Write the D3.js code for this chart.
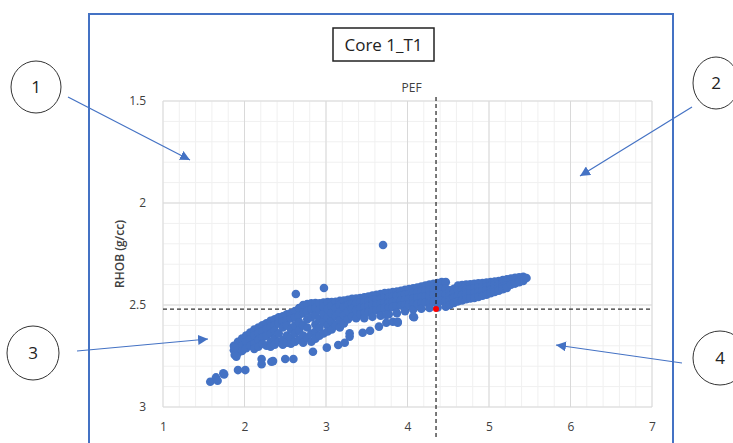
<!DOCTYPE html>
<meta charset="utf-8">
<title>Core 1_T1</title>
<script src="https://d3js.org/d3.v7.min.js"></script>
<style>
body { margin: 0; background: #fff; }
text { font-family: "Open Sans", "Noto Sans", sans-serif; }
</style>
<div id="chart"></div>
<script>
// axis ticks
const xTicks = [1, 2, 3, 4, 5, 6, 7];
const yTicks = [1.5, 2, 2.5, 3];

// cut-off (PEF, RHOB) shown by the dashed lines and red point
const cutPef = 4.35, cutRhob = 2.52;

// isolated points
const outliers = [[3.70, 2.206], [2.975, 2.417], [2.63, 2.446]];

// lower-left tail and lower trend below the main band
const lowerTrend = [
  [1.58, 2.876], [1.65, 2.855], [1.67, 2.871], [1.75, 2.84], [1.74, 2.835],
  [1.92, 2.819], [2.01, 2.819], [1.88, 2.745], [1.90, 2.753], [1.88, 2.707],
  [2.21, 2.765], [2.21, 2.79], [2.33, 2.778], [2.35, 2.775], [2.50, 2.765], [2.60, 2.765],
  [2.84, 2.729], [3.01, 2.709], [3.15, 2.696], [3.23, 2.685], [3.29, 2.655], [3.29, 2.639],
  [3.45, 2.636], [3.54, 2.626], [3.65, 2.606], [3.74, 2.587], [3.88, 2.587], [4.08, 2.56],
  [3.74, 2.549], [3.82, 2.582], [3.88, 2.582], [4.07, 2.557]
];

// main band, read column by column
const band = [
  [1.87, 2.700], [1.87, 2.722],
  [1.92, 2.680], [1.92, 2.705], [1.92, 2.735],
  [1.97, 2.665], [1.97, 2.700], [1.97, 2.725],
  [2.02, 2.650], [2.02, 2.680], [2.02, 2.712],
  [2.07, 2.635], [2.07, 2.668], [2.07, 2.700],
  [2.12, 2.620], [2.12, 2.650], [2.12, 2.690], [2.12, 2.715],
  [2.17, 2.610], [2.17, 2.640], [2.17, 2.672], [2.17, 2.705],
  [2.22, 2.600], [2.22, 2.630], [2.22, 2.660], [2.22, 2.690],
  [2.27, 2.590], [2.27, 2.615], [2.27, 2.650], [2.27, 2.700],
  [2.32, 2.578], [2.32, 2.605], [2.32, 2.640], [2.32, 2.680], [2.32, 2.705],
  [2.37, 2.570], [2.37, 2.600], [2.37, 2.625], [2.37, 2.665], [2.37, 2.695],
  [2.42, 2.560], [2.42, 2.590], [2.42, 2.640], [2.42, 2.680],
  [2.47, 2.555], [2.47, 2.580], [2.47, 2.610], [2.47, 2.670], [2.47, 2.695],
  [2.52, 2.545], [2.52, 2.575], [2.52, 2.600], [2.52, 2.650], [2.52, 2.685],
  [2.57, 2.540], [2.57, 2.565], [2.57, 2.620], [2.57, 2.660], [2.57, 2.690],
  [2.62, 2.530], [2.62, 2.560], [2.62, 2.600], [2.62, 2.640], [2.62, 2.680],
  [2.67, 2.515], [2.67, 2.550], [2.67, 2.585], [2.67, 2.625], [2.67, 2.670],
  [2.72, 2.500], [2.72, 2.540], [2.72, 2.600], [2.72, 2.650], [2.72, 2.685],
  [2.77, 2.495], [2.77, 2.530], [2.77, 2.570], [2.77, 2.610], [2.77, 2.660],
  [2.82, 2.492], [2.82, 2.520], [2.82, 2.560], [2.82, 2.640], [2.82, 2.680],
  [2.87, 2.490], [2.87, 2.515], [2.87, 2.550], [2.87, 2.595], [2.87, 2.630], [2.87, 2.665],
  [2.92, 2.492], [2.92, 2.525], [2.92, 2.570], [2.92, 2.610], [2.92, 2.650],
  [2.97, 2.488], [2.97, 2.510], [2.97, 2.545], [2.97, 2.585], [2.97, 2.640],
  [3.02, 2.486], [3.02, 2.520], [3.02, 2.560], [3.02, 2.600], [3.02, 2.630],
  [3.07, 2.485], [3.07, 2.505], [3.07, 2.540], [3.07, 2.580], [3.07, 2.620],
  [3.12, 2.484], [3.12, 2.515], [3.12, 2.555], [3.12, 2.600],
  [3.17, 2.480], [3.17, 2.500], [3.17, 2.535], [3.17, 2.575], [3.17, 2.610],
  [3.22, 2.478], [3.22, 2.510], [3.22, 2.550], [3.22, 2.590],
  [3.27, 2.474], [3.27, 2.500], [3.27, 2.530], [3.27, 2.570],
  [3.32, 2.470], [3.32, 2.495], [3.32, 2.520], [3.32, 2.555],
  [3.37, 2.468], [3.37, 2.490], [3.37, 2.525], [3.37, 2.565],
  [3.42, 2.466], [3.42, 2.488], [3.42, 2.515], [3.42, 2.545],
  [3.47, 2.462], [3.47, 2.485], [3.47, 2.510], [3.47, 2.540], [3.47, 2.565],
  [3.52, 2.458], [3.52, 2.480], [3.52, 2.505], [3.52, 2.535],
  [3.57, 2.454], [3.57, 2.476], [3.57, 2.500], [3.57, 2.530], [3.57, 2.558],
  [3.62, 2.450], [3.62, 2.472], [3.62, 2.498], [3.62, 2.525],
  [3.67, 2.446], [3.67, 2.468], [3.67, 2.495], [3.67, 2.520], [3.67, 2.552],
  [3.72, 2.442], [3.72, 2.465], [3.72, 2.490], [3.72, 2.515],
  [3.77, 2.440], [3.77, 2.462], [3.77, 2.488], [3.77, 2.512], [3.77, 2.545],
  [3.82, 2.436], [3.82, 2.458], [3.82, 2.485], [3.82, 2.510],
  [3.87, 2.434], [3.87, 2.455], [3.87, 2.480], [3.87, 2.505], [3.87, 2.540],
  [3.92, 2.430], [3.92, 2.452], [3.92, 2.478], [3.92, 2.502],
  [3.97, 2.426], [3.97, 2.448], [3.97, 2.475], [3.97, 2.500], [3.97, 2.530],
  [4.02, 2.422], [4.02, 2.445], [4.02, 2.470], [4.02, 2.498],
  [4.07, 2.418], [4.07, 2.440], [4.07, 2.468], [4.07, 2.495], [4.07, 2.522],
  [4.12, 2.414], [4.12, 2.436], [4.12, 2.465], [4.12, 2.495],
  [4.17, 2.410], [4.17, 2.432], [4.17, 2.460], [4.17, 2.490], [4.17, 2.518],
  [4.22, 2.405], [4.22, 2.428], [4.22, 2.458], [4.22, 2.488],
  [4.27, 2.400], [4.27, 2.425], [4.27, 2.455], [4.27, 2.488], [4.27, 2.515],
  [4.32, 2.396], [4.32, 2.422], [4.32, 2.452], [4.32, 2.485],
  [4.37, 2.392], [4.37, 2.420], [4.37, 2.450], [4.37, 2.482], [4.37, 2.512],
  [4.42, 2.388], [4.42, 2.418], [4.42, 2.448], [4.42, 2.480],
  [4.47, 2.388], [4.47, 2.420], [4.47, 2.450], [4.47, 2.478], [4.47, 2.508],
  [4.52, 2.428], [4.52, 2.452], [4.52, 2.476], [4.52, 2.500],
  [4.57, 2.420], [4.57, 2.440], [4.57, 2.462], [4.57, 2.490],
  [4.62, 2.405], [4.62, 2.428], [4.62, 2.455], [4.62, 2.482],
  [4.67, 2.402], [4.67, 2.425], [4.67, 2.450], [4.67, 2.478],
  [4.72, 2.400], [4.72, 2.422], [4.72, 2.448], [4.72, 2.472],
  [4.77, 2.398], [4.77, 2.420], [4.77, 2.444], [4.77, 2.468],
  [4.82, 2.396], [4.82, 2.418], [4.82, 2.440], [4.82, 2.465],
  [4.87, 2.394], [4.87, 2.415], [4.87, 2.436], [4.87, 2.460],
  [4.92, 2.392], [4.92, 2.412], [4.92, 2.432], [4.92, 2.455],
  [4.97, 2.390], [4.97, 2.410], [4.97, 2.428], [4.97, 2.450],
  [5.02, 2.388], [5.02, 2.406], [5.02, 2.424], [5.02, 2.442],
  [5.07, 2.385], [5.07, 2.402], [5.07, 2.418], [5.07, 2.436],
  [5.12, 2.382], [5.12, 2.398], [5.12, 2.414], [5.12, 2.430],
  [5.17, 2.378], [5.17, 2.394], [5.17, 2.410], [5.17, 2.422],
  [5.22, 2.374], [5.22, 2.390], [5.22, 2.405], [5.22, 2.416],
  [5.27, 2.370], [5.27, 2.386], [5.27, 2.400],
  [5.32, 2.367], [5.32, 2.382], [5.32, 2.395],
  [5.37, 2.364], [5.37, 2.378], [5.37, 2.388],
  [5.42, 2.362], [5.42, 2.372], [5.42, 2.382],
  [5.46, 2.368]
];

// numbered callouts: label, bubble centre, arrow start, arrow tip (page px)
const callouts = [
  {label: "1", cx: 36, cy: 87, rx: 25, ry: 26, from: [68, 97], to: [190, 160]},
  {label: "2", cx: 716, cy: 83, rx: 23, ry: 26, from: [692, 107], to: [580, 176]},
  {label: "3", cx: 33, cy: 353, rx: 26, ry: 27, from: [77, 351], to: [208, 339]},
  {label: "4", cx: 720, cy: 358, rx: 27, ry: 27, from: [682, 363], to: [556, 345]}
];

const W = 733, H = 443;
const blue = "#4472C4";

const svg = d3.select("#chart").append("svg")
  .attr("width", W).attr("height", H);

svg.append("rect").attr("width", W).attr("height", H).attr("fill", "#fff");

const x = d3.scaleLinear().domain([1, 7]).range([163, 652]);
const y = d3.scaleLinear().domain([1.5, 3]).range([101, 407]);

// outer frame (open at bottom)
svg.append("path")
  .attr("d", `M89,${H + 2}V14H673V${H + 2}`)
  .attr("fill", "none").attr("stroke", blue).attr("stroke-width", 2);

// title
svg.append("rect").attr("x", 333).attr("y", 28).attr("width", 101).attr("height", 33)
  .attr("fill", "#fff").attr("stroke", "#222").attr("stroke-width", 1.5);
svg.append("text").attr("x", 383.5).attr("y", 51).attr("text-anchor", "middle")
  .style("font-size", "17px").attr("fill", "#222").text("Core 1_T1");

// grid
const grid = svg.append("g");
grid.selectAll(".mx").data(x.ticks(30)).join("line")
  .attr("x1", d => x(d)).attr("x2", d => x(d)).attr("y1", y(1.5)).attr("y2", y(3))
  .attr("stroke", "#F0F0F0");
grid.selectAll(".my").data(y.ticks(15)).join("line")
  .attr("y1", d => y(d)).attr("y2", d => y(d)).attr("x1", x(1)).attr("x2", x(7))
  .attr("stroke", "#F0F0F0");
grid.selectAll(".gx").data(xTicks).join("line")
  .attr("x1", d => x(d)).attr("x2", d => x(d)).attr("y1", y(1.5)).attr("y2", y(3))
  .attr("stroke", "#D9D9D9");
grid.selectAll(".gy").data(yTicks).join("line")
  .attr("y1", d => y(d)).attr("y2", d => y(d)).attr("x1", x(1)).attr("x2", x(7))
  .attr("stroke", "#D9D9D9");

// axes labels
const xAxis = svg.append("g").attr("transform", `translate(0,${y(3) + 12})`)
  .call(d3.axisBottom(x).tickValues(xTicks).tickSize(0).tickFormat(d3.format("d")));
const yAxis = svg.append("g").attr("transform", `translate(${x(1) - 14},0)`)
  .call(d3.axisLeft(y).tickValues(yTicks).tickSize(0).tickFormat(d => d));
[xAxis, yAxis].forEach(a => {
  a.select(".domain").remove();
  a.selectAll("text").attr("fill", "#404040")
    .style("font-size", "12px").style("font-family", '"Open Sans", sans-serif');
});

svg.append("text").attr("x", x(4.05)).attr("y", 92).attr("text-anchor", "middle")
  .attr("fill", "#404040").style("font-size", "12px").text("PEF");
svg.append("text").attr("transform", `translate(124,${y(2.25)}) rotate(-90)`)
  .attr("text-anchor", "middle").attr("fill", "#404040")
  .style("font-size", "12px").style("font-weight", "600").text("RHOB (g/cc)");

// dashed cut-off lines
svg.append("line").attr("x1", x(1)).attr("x2", x(6.98)).attr("y1", y(cutRhob)).attr("y2", y(cutRhob))
  .attr("stroke", "#333").attr("stroke-width", 1.2).attr("stroke-dasharray", "4,3");

// scatter
const pts = band.concat(lowerTrend, outliers);
svg.append("g").selectAll("circle").data(pts).join("circle")
  .attr("cx", d => x(d[0])).attr("cy", d => y(d[1])).attr("r", 4.3)
  .attr("fill", blue);

svg.append("line").attr("x1", x(cutPef)).attr("x2", x(cutPef)).attr("y1", 97).attr("y2", 438)
  .attr("stroke", "#222").attr("stroke-width", 1.2).attr("stroke-dasharray", "4,3");
svg.append("circle").attr("cx", x(cutPef)).attr("cy", y(cutRhob)).attr("r", 3)
  .attr("fill", "#FF0000");

// callouts
const defs = svg.append("defs");
defs.append("marker").attr("id", "tri").attr("viewBox", "0 0 10 10")
  .attr("refX", 10).attr("refY", 5).attr("markerWidth", 10).attr("markerHeight", 10)
  .attr("markerUnits", "userSpaceOnUse").attr("orient", "auto")
  .append("path").attr("d", "M0,0L10,5L0,10Z").attr("fill", blue);

const co = svg.append("g").selectAll("g").data(callouts).join("g");
co.append("ellipse").attr("cx", d => d.cx).attr("cy", d => d.cy)
  .attr("rx", d => d.rx).attr("ry", d => d.ry)
  .attr("fill", "#fff").attr("stroke", "#333").attr("stroke-width", 1);
co.append("text").attr("x", d => d.cx).attr("y", d => d.cy + 6).attr("text-anchor", "middle")
  .style("font-size", "17px").attr("fill", "#222").text(d => d.label);
co.append("line").attr("x1", d => d.from[0]).attr("y1", d => d.from[1])
  .attr("x2", d => d.to[0]).attr("y2", d => d.to[1])
  .attr("stroke", blue).attr("stroke-width", 1.2).attr("marker-end", "url(#tri)");
</script>
